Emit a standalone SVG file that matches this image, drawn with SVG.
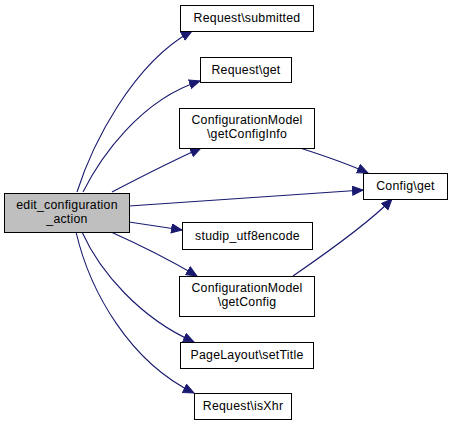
<svg xmlns="http://www.w3.org/2000/svg" width="452" height="424" viewBox="0 0 452 424">
<style>
.n rect{fill:#ffffff;stroke:#000000;stroke-width:1}
#main rect{fill:#bfbfbf}
text{font-family:"Liberation Sans",Arial,sans-serif;font-size:12.3px;letter-spacing:0.25px;text-anchor:middle;fill:#000000}
.e path{fill:none;stroke:#191970;stroke-width:1.1;marker-end:url(#ah)}
</style>
<defs>
<marker id="ah" markerUnits="userSpaceOnUse" markerWidth="13" markerHeight="11" refX="11" refY="5" orient="auto">
<path d="M0.5,0.5 L11,5 L0.5,9.5 Z" fill="#191970" stroke="#191970"/>
</marker>
</defs>
<rect width="452" height="424" fill="#ffffff"/>
<g id="edges" class="e">
<path d="M77,192 C92,145 132,64 192,31"/>
<path d="M83,192 C100,158 140,100 200,81"/>
<path d="M112,192 C135,180 170,162 201,148"/>
<path d="M129,206 L363,190"/>
<path d="M129,222 L182,230"/>
<path d="M111,232 C140,245 170,260 197,276"/>
<path d="M82,232 C100,272 140,318 194,342"/>
<path d="M76,232 C90,292 130,362 194,393"/>
<path d="M300,148 C325,156 348,164 368,173"/>
<path d="M293,276 C322,256 370,222 392,199"/>
</g>
<g id="main" class="n"><rect x="4.5" y="193.5" width="125" height="39"/><text x="67" y="209">edit_configuration</text><text x="67" y="223">_action</text></g>
<g id="n1" class="n"><rect x="180.5" y="5.5" width="133" height="26"/><text x="247" y="22">Request\submitted</text></g>
<g id="n2" class="n"><rect x="200.5" y="57.5" width="91" height="25"/><text x="246" y="74">Request\get</text></g>
<g id="n3" class="n"><rect x="179.5" y="108.5" width="135" height="40"/><text x="247" y="124">ConfigurationModel</text><text x="247" y="138">\getConfigInfo</text></g>
<g id="n4" class="n"><rect x="363.5" y="173.5" width="84" height="26"/><text x="405.5" y="190">Config\get</text></g>
<g id="n5" class="n"><rect x="182.5" y="222.5" width="130" height="27"/><text x="247.5" y="240">studip_utf8encode</text></g>
<g id="n6" class="n"><rect x="179.5" y="276.5" width="135" height="40"/><text x="247" y="292">ConfigurationModel</text><text x="247" y="306">\getConfig</text></g>
<g id="n7" class="n"><rect x="180.5" y="342.5" width="133" height="26"/><text x="247" y="359">PageLayout\setTitle</text></g>
<g id="n8" class="n"><rect x="194.5" y="393.5" width="97" height="26"/><text x="243" y="410">Request\isXhr</text></g>
</svg>
